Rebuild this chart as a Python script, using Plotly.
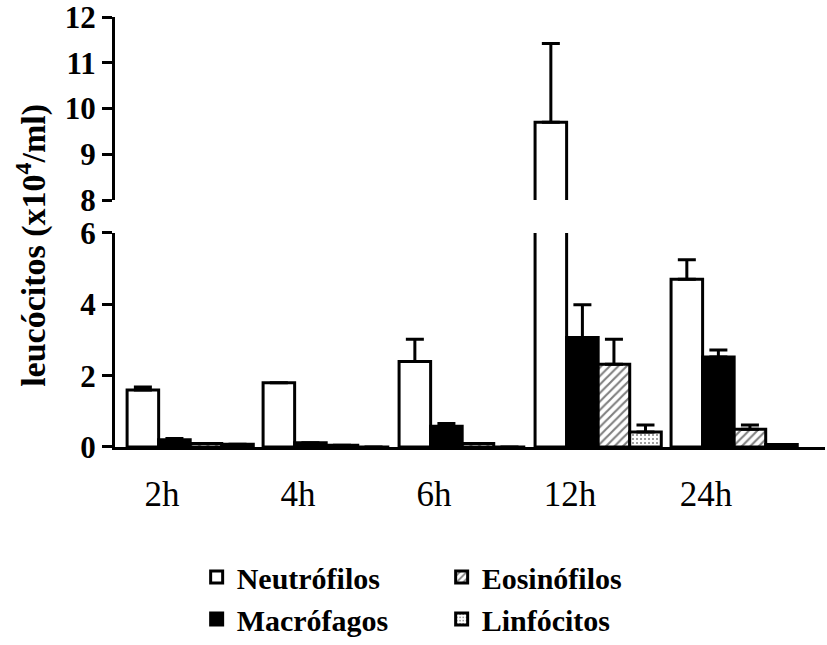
import plotly.graph_objects as go

times = ["2h", "4h", "6h", "12h", "24h"]
neutrofilos = [1.6, 1.8, 2.4, 9.7, 4.7]
neutrofilos_err = [0.08, 0.0, 0.62, 1.72, 0.55]
macrofagos = [0.2, 0.12, 0.58, 3.07, 2.52]
macrofagos_err = [0.04, 0.0, 0.08, 0.92, 0.2]
eosinofilos = [0.1, 0.05, 0.1, 2.32, 0.5]
eosinofilos_err = [0.0, 0.0, 0.0, 0.7, 0.12]
linfocitos = [0.08, 0.0, 0.0, 0.42, 0.07]
linfocitos_err = [0.0, 0.0, 0.0, 0.2, 0.0]

series = [
    ("Neutrófilos", neutrofilos, neutrofilos_err, dict(color="white"), 1),
    ("Macrófagos", macrofagos, macrofagos_err, dict(color="black"), 3),
    ("Eosinófilos", eosinofilos, eosinofilos_err,
     dict(color="white", pattern=dict(shape="/", fgcolor="black", bgcolor="white", size=6, solidity=0.35)), 2),
    ("Linfócitos", linfocitos, linfocitos_err,
     dict(color="white", pattern=dict(shape=".", fgcolor="black", bgcolor="white", size=4, solidity=0.2)), 4),
]

W = 0.232
OFF0 = -0.257
SERIF = "Liberation Serif"

fig = go.Figure()
for i, (name, vals, errs, mk, rank) in enumerate(series):
    for yax, show in (("y", True), ("y2", False)):
        fig.add_trace(go.Bar(
            x=times, y=vals, name=name, yaxis=yax, xaxis="x",
            width=W, offset=OFF0 + i * W,
            marker=dict(line=dict(color="black", width=3), **mk),
            error_y=dict(type="data", symmetric=False, array=errs,
                         arrayminus=[0] * len(errs), color="black",
                         thickness=3, width=9),
            showlegend=show, legendrank=rank, legendgroup=name,
        ))

tickfont = dict(family=SERIF, size=31, color="black", weight="bold")
fig.update_layout(
    width=827, height=645,
    margin=dict(l=115, r=2, t=17, b=198),
    plot_bgcolor="white", paper_bgcolor="white",
    barmode="overlay",
    xaxis=dict(type="category", range=[-0.346, 4.875], anchor="y",
               showline=True, linewidth=3, linecolor="black", automargin=False,
               ticks="", showgrid=False, zeroline=False, ticklabelstandoff=14,
               ticklabeloverflow="allow",
               tickfont=dict(family=SERIF, size=35, color="black")),
    yaxis=dict(domain=[0, 0.4977], range=[0, 6], tickvals=[0, 2, 4, 6],
               showline=True, linewidth=3, linecolor="black", automargin=False,
               ticks="outside", ticklen=10, tickwidth=3, tickcolor="black",
               ticklabeloverflow="allow",
               showgrid=False, zeroline=False, tickfont=tickfont),
    yaxis2=dict(domain=[0.5744, 1], range=[8, 12], tickvals=[8, 9, 10, 11, 12],
                anchor="x", showline=True, linewidth=3, linecolor="black", automargin=False,
                ticks="outside", ticklen=10, tickwidth=3, tickcolor="black",
                ticklabeloverflow="allow",
                showgrid=False, zeroline=False, tickfont=tickfont),
    yaxis3=dict(overlaying="y", range=[0, 6], tickvals=[6], anchor="x",
                ticks="inside", ticklen=8, tickwidth=3, tickcolor="black",
                showticklabels=False, showline=False, showgrid=False, zeroline=False),
    yaxis4=dict(overlaying="y2", range=[8, 12], tickvals=[8], anchor="x",
                ticks="inside", ticklen=8, tickwidth=3, tickcolor="black",
                showticklabels=False, showline=False, showgrid=False, zeroline=False),
    legend=dict(orientation="h", x=0.115, xanchor="left",
                yref="container", y=0.0, yanchor="bottom",
                entrywidth=200, entrywidthmode="pixels",
                font=dict(family=SERIF, size=30, color="black", weight="bold"),
                traceorder="normal"),
    annotations=[dict(
        text="leucócitos (x10<sup>4</sup>/ml)", textangle=-90,
        xref="paper", yref="paper", x=-0.117, y=0.47,
        xanchor="center", yanchor="middle", showarrow=False,
        font=dict(family=SERIF, size=34, color="black", weight="bold"))],
)

fig.write_html("out.html")
